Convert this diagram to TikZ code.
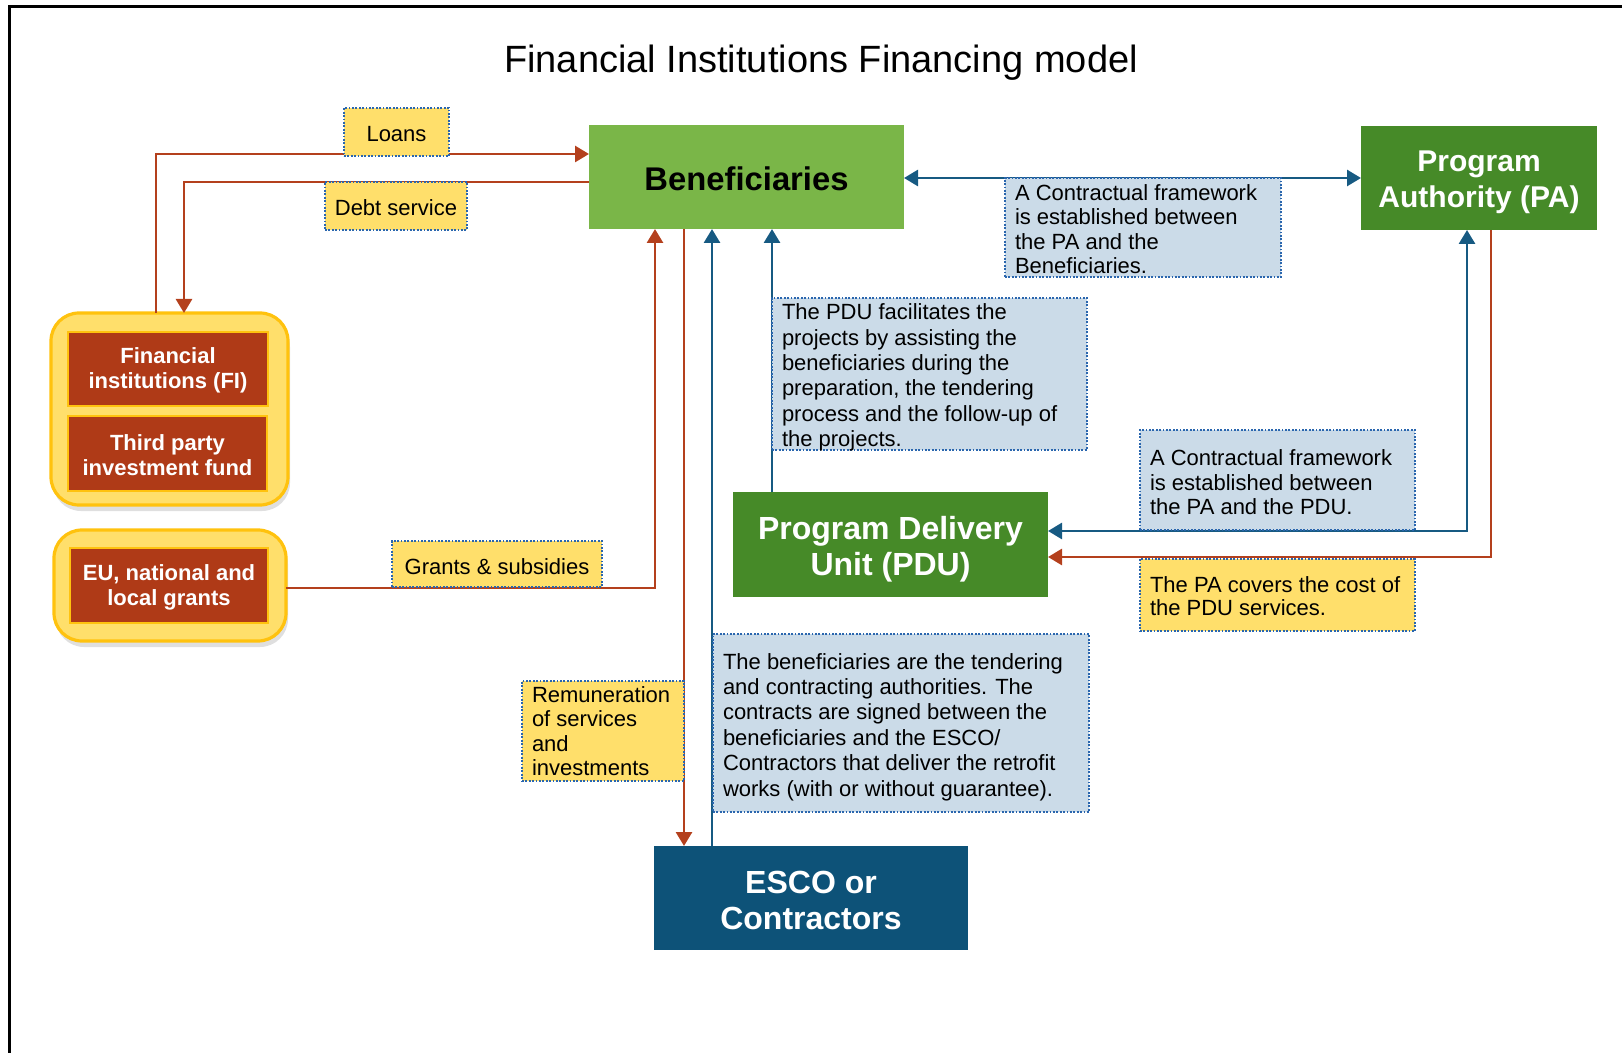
\documentclass[tikz,border=0pt]{standalone}
\usepackage{fontspec}
\setmainfont{Liberation Sans}
\usetikzlibrary{arrows.meta,shadows}
\definecolor{benGreen}{HTML}{7AB648}
\definecolor{darkGreen}{HTML}{468A28}
\definecolor{escoBlue}{HTML}{0D5278}
\definecolor{rustFill}{HTML}{AF3A17}
\definecolor{goldLine}{HTML}{FFC20E}
\definecolor{paleGold}{HTML}{FFDF6B}
\definecolor{lblYellow}{HTML}{FFDF6B}
\definecolor{lblBlue}{HTML}{CBDBE8}
\definecolor{dotBlue}{HTML}{2A66AE}
\definecolor{redLine}{HTML}{B4401D}
\definecolor{blueLine}{HTML}{175A82}
\begin{document}
\begin{tikzpicture}[x=0.5pt,y=-0.5pt,
  >={Triangle[length=7pt,width=8pt]},
  boxshape/.style={inner sep=0pt,outer sep=0pt},
  boxtext/.style={inner sep=0pt,outer sep=0pt,align=center,
    font=\bfseries\fontsize{16}{18}\selectfont},
  lightgreen/.style={boxshape,fill=benGreen},
  darkgreen/.style={boxshape,fill=darkGreen},
  escobox/.style={boxshape,fill=escoBlue},
  groupbox/.style={boxshape,fill=paleGold,draw=goldLine,
    line width=1.6pt,rounded corners=14pt,
    drop shadow={shadow xshift=1pt,shadow yshift=-3pt,opacity=0.25,fill=gray}},
  rustbox/.style={boxshape,fill=rustFill,draw=goldLine,line width=1.1pt},
  rusttext/.style={inner sep=0pt,outer sep=0pt,align=center,text=white,
    font=\bfseries\fontsize{11}{12.5}\selectfont},
  lbl/.style={boxshape,draw=dotBlue,line width=0.9pt,
    dash pattern=on 0.9pt off 0.8pt},
  ylbl/.style={lbl,fill=lblYellow},
  blbl/.style={lbl,fill=lblBlue},
  ctext/.style={inner sep=0pt,outer sep=0pt,align=center,
    font=\fontsize{11}{12.7}\selectfont},
  lbltext/.style={inner sep=0pt,outer sep=0pt,anchor=west,align=left,
    font=\fontsize{11}{12.7}\selectfont},
  redarrow/.style={draw=redLine,line width=1.4pt},
  bluearrow/.style={draw=blueLine,line width=1.4pt}
]
\useasboundingbox (0,0) rectangle (1622,1053);
% frame
\draw[line width=1.5pt] (9,1053) -- (9,7) -- (1622,7);

% title
\node[font=\fontsize{19}{22}\selectfont] (title) at (821,63) {Financial Institutions Financing model};

% main boxes
\node[lightgreen,minimum width=157.5pt,minimum height=52pt] (ben) at (746.5,177) {};
\node[boxtext,font=\bfseries\fontsize{16.4}{18}\selectfont] (bentxt) at ([yshift=-1pt]ben.center) {Beneficiaries};
\node[darkgreen,minimum width=118pt,minimum height=52pt] (pa) at (1479,178) {};
\node[boxtext,text=white,font=\bfseries\fontsize{15}{18}\selectfont] (patxt) at ([yshift=-2.3pt]pa.center) {Program\\Authority (PA)};
\node[darkgreen,minimum width=157.5pt,minimum height=52.5pt] (pdu) at (890.5,544.5) {};
\node[boxtext,text=white,font=\bfseries\fontsize{16}{18}\selectfont] (pdutitle) at ([yshift=-2.5pt]pdu.center) {Program Delivery\\Unit (PDU)};
\node[escobox,minimum width=157pt,minimum height=52pt] (esco) at (811,898) {};
\node[boxtext,text=white] (escotitle) at ([yshift=-1.3pt]esco.center) {ESCO or\\Contractors};

% left groups
\node[groupbox,minimum width=118.5pt,minimum height=96pt] (grp1) at (169.5,409) {};
\node[rustbox,minimum width=100pt,minimum height=37pt] (fi) at (168,369) {};
\node[rusttext] (fitxt) at ([yshift=-0.8pt]fi.center) {Financial\\institutions (FI)};
\node[rustbox,minimum width=99.5pt,minimum height=37.5pt] (tp) at (167.5,453.5) {};
\node[rusttext] (tptxt) at ([yshift=-0.8pt]tp.center) {Third party\\investment fund};
\node[groupbox,minimum width=116pt,minimum height=55.5pt] (grp2) at (170,585.5) {};
\node[rustbox,minimum width=99pt,minimum height=37.5pt] (eu) at (169,585.5) {};
\node[rusttext] (eutxt) at ([yshift=-0.8pt]eu.center) {EU, national and\\local grants};

% connectors
\draw[redarrow,->] (grp1.north -| 156,0) |- (ben.west |- 0,154);
\draw[redarrow,->] (ben.west |- 0,182) -| (grp1.north -| 184,0);
\draw[redarrow,->] (grp2.east |- 0,588) -| (ben.south -| 655,0);
\draw[redarrow,->] (ben.south -| 684,0) -- (esco.north -| 684,0);
\draw[bluearrow,->] (esco.north -| 712,0) -- (ben.south -| 712,0);
\draw[bluearrow,->] (pdu.north -| 772,0) -- (ben.south -| 772,0);
\draw[bluearrow,<->] (ben.east |- 0,178) -- (pa.west |- 0,178);
\draw[bluearrow,<->] (pdu.east |- 0,531) -| (pa.south -| 1467,0);
\draw[redarrow,->] (pa.south -| 1491,0) |- (pdu.east |- 0,557);

% labels
\node[ylbl,minimum width=52.5pt,minimum height=24pt] (loans) at (396.5,132) {};
\node[ctext] (loanstxt) at ([yshift=-1pt]loans.center) {Loans};
\node[ylbl,minimum width=71pt,minimum height=24pt] (debt) at (396,206) {};
\node[ctext] (debttxt) at ([yshift=-1pt]debt.center) {Debt service};
\node[ylbl,minimum width=105pt,minimum height=23pt] (grants) at (497,564) {};
\node[ctext] (grantstxt) at ([yshift=-1.5pt]grants.center) {Grants \& subsidies};

\node[ylbl,minimum width=81pt,minimum height=50pt] (remun) at (603,731) {};
\node[lbltext,font=\fontsize{11}{12.2}\selectfont] (remuntxt) at ([xshift=5pt]remun.west) {Remuneration\\of services\\and\\investments};

\node[blbl,minimum width=188pt,minimum height=89pt] (escolbl) at (901,723) {};
\node[lbltext] (escotxt) at ([xshift=5pt,yshift=-2pt]escolbl.west) {The beneficiaries are the tendering\\and contracting authorities. The\\contracts are signed between the\\beneficiaries and the ESCO/\\Contractors that deliver the retrofit\\works (with or without guarantee).};

\node[blbl,minimum width=157.5pt,minimum height=76pt] (pdulbl) at (929.5,374) {};
\node[lbltext] (pdutxt) at ([xshift=5pt,yshift=-1.8pt]pdulbl.west) {The PDU facilitates the\\projects by assisting the\\beneficiaries during the\\preparation, the tendering\\process and the follow-up of\\the projects.};

\node[blbl,minimum width=138pt,minimum height=49.5pt] (pabenlbl) at (1143,227.5) {};
\node[lbltext,font=\fontsize{11}{12.2}\selectfont] (pabentxt) at ([xshift=5pt,yshift=-0.8pt]pabenlbl.west) {A Contractual framework\\is established between\\the PA and the\\Beneficiaries.};

\node[blbl,minimum width=137.5pt,minimum height=50pt] (papdulbl) at (1277.5,480) {};
\node[lbltext,font=\fontsize{11}{12.2}\selectfont] (papdutxt) at ([xshift=5pt,yshift=-1.2pt]papdulbl.west) {A Contractual framework\\is established between\\the PA and the PDU.};

\node[ylbl,minimum width=137.5pt,minimum height=36pt] (costlbl) at (1277.5,595) {};
\node[lbltext,font=\fontsize{11}{11.5}\selectfont] (costtxt) at ([xshift=5pt,yshift=-0.5pt]costlbl.west) {The PA covers the cost of\\the PDU services.};
\end{tikzpicture}
\end{document}
